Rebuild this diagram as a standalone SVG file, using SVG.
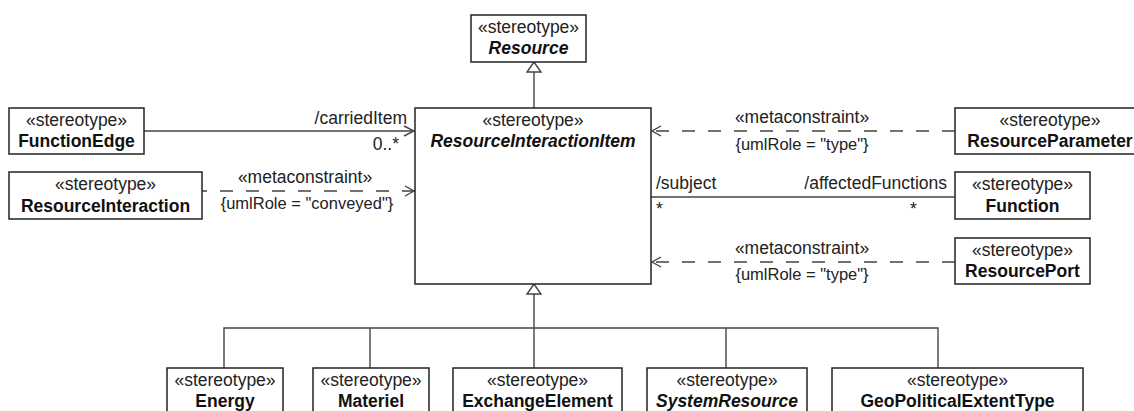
<svg xmlns="http://www.w3.org/2000/svg" width="1134" height="411" viewBox="0 0 1134 411">
<style>
.box{fill:#fff;stroke:#222;stroke-width:1.5}
.st{font-family:"Liberation Sans",Arial,sans-serif;font-size:17.5px;fill:#222;text-anchor:middle}
.nm{font-family:"Liberation Sans",Arial,sans-serif;font-size:17.5px;font-weight:bold;fill:#111;text-anchor:middle}
.it{font-style:italic}
.lb{font-family:"Liberation Sans",Arial,sans-serif;font-size:17.5px;fill:#222}
.cn{font-family:"Liberation Sans",Arial,sans-serif;font-size:16.5px;fill:#222;text-anchor:middle}
.ln{fill:none;stroke:#444;stroke-width:1.4}
.ds{fill:none;stroke:#444;stroke-width:1.4;stroke-dasharray:13 13}
.tri{fill:#fff;stroke:#444;stroke-width:1.4}
</style>
<defs>
<marker id="open" viewBox="0 0 12 12" refX="11" refY="6" markerWidth="12" markerHeight="12" markerUnits="userSpaceOnUse" orient="auto">
<path d="M1,1 L11,6 L1,11" fill="none" stroke="#444" stroke-width="1.4"/>
</marker>
</defs>
<g id="connectors">
<path class="ln" d="M534,108 V72"/>
<path class="tri" d="M534,62 L527,72 L541,72 Z"/>
<path class="ln" d="M144,131 H414" marker-end="url(#open)"/>
<text class="lb" x="407" y="124" text-anchor="end">/carriedItem</text>
<text class="lb" x="399" y="150" text-anchor="end">0..*</text>
<path class="ds" d="M415,191 H202" stroke-dashoffset="0"/>
<path class="ln" d="M405,186 L414,191 L405,196"/>
<text class="st" x="305" y="183">«metaconstraint»</text>
<text class="cn" x="307" y="209">{umlRole = "conveyed"}</text>
<path class="ds" d="M955,131 H652"/>
<path class="ln" d="M661,126 L652,131 L661,136"/>
<text class="st" x="802" y="123">«metaconstraint»</text>
<text class="cn" x="802" y="150">{umlRole = "type"}</text>
<path class="ln" d="M651,197 H955"/>
<text class="lb" x="656" y="189">/subject</text>
<text class="lb" x="947" y="189" text-anchor="end">/affectedFunctions</text>
<text class="lb" x="656" y="215">*</text>
<text class="lb" x="910" y="215">*</text>
<path class="ds" d="M955,262 H652"/>
<path class="ln" d="M661,257 L652,262 L661,267"/>
<text class="st" x="802" y="254">«metaconstraint»</text>
<text class="cn" x="802" y="280">{umlRole = "type"}</text>
<path class="tri" d="M534,284 L527,294 L541,294 Z"/>
<path class="ln" d="M534,294 V368 M224,368 V328 H938 V368 M370,328 V368 M726,328 V368"/>
</g>
<g id="Resource">
<rect class="box" x="471" y="15" width="115" height="47"/>
<text class="st" x="528.5" y="33">«stereotype»</text>
<text class="nm it" x="528.5" y="54">Resource</text>
</g>
<g id="ResourceInteractionItem">
<rect class="box" x="415" y="108" width="236" height="176"/>
<text class="st" x="533" y="126">«stereotype»</text>
<text class="nm it" x="533" y="147">ResourceInteractionItem</text>
</g>
<g id="FunctionEdge">
<rect class="box" x="9" y="108" width="135" height="46"/>
<text class="st" x="76.5" y="126">«stereotype»</text>
<text class="nm" x="76.5" y="147">FunctionEdge</text>
</g>
<g id="ResourceInteraction">
<rect class="box" x="9" y="172" width="193" height="47"/>
<text class="st" x="105.5" y="190">«stereotype»</text>
<text class="nm" x="105.5" y="212">ResourceInteraction</text>
</g>
<g id="ResourceParameter">
<rect class="box" x="955" y="108" width="189" height="46"/>
<text class="st" x="1050" y="126">«stereotype»</text>
<text class="nm" x="1050" y="147">ResourceParameter</text>
</g>
<g id="Function">
<rect class="box" x="955" y="172" width="135" height="47"/>
<text class="st" x="1022.5" y="190">«stereotype»</text>
<text class="nm" x="1022.5" y="212">Function</text>
</g>
<g id="ResourcePort">
<rect class="box" x="955" y="238" width="135" height="46"/>
<text class="st" x="1022.5" y="256">«stereotype»</text>
<text class="nm" x="1022.5" y="277">ResourcePort</text>
</g>
<g id="Energy">
<rect class="box" x="167" y="368" width="116" height="47"/>
<text class="st" x="225" y="386">«stereotype»</text>
<text class="nm" x="225" y="407">Energy</text>
</g>
<g id="Materiel">
<rect class="box" x="313" y="368" width="116" height="47"/>
<text class="st" x="371" y="386">«stereotype»</text>
<text class="nm" x="371" y="407">Materiel</text>
</g>
<g id="ExchangeElement">
<rect class="box" x="453" y="368" width="169" height="47"/>
<text class="st" x="537.5" y="386">«stereotype»</text>
<text class="nm" x="537.5" y="407">ExchangeElement</text>
</g>
<g id="SystemResource">
<rect class="box" x="647" y="368" width="160" height="47"/>
<text class="st" x="727" y="386">«stereotype»</text>
<text class="nm it" x="727" y="407">SystemResource</text>
</g>
<g id="GeoPoliticalExtentType">
<rect class="box" x="832" y="368" width="251" height="47"/>
<text class="st" x="957.5" y="386">«stereotype»</text>
<text class="nm" x="957.5" y="407">GeoPoliticalExtentType</text>
</g>
</svg>
